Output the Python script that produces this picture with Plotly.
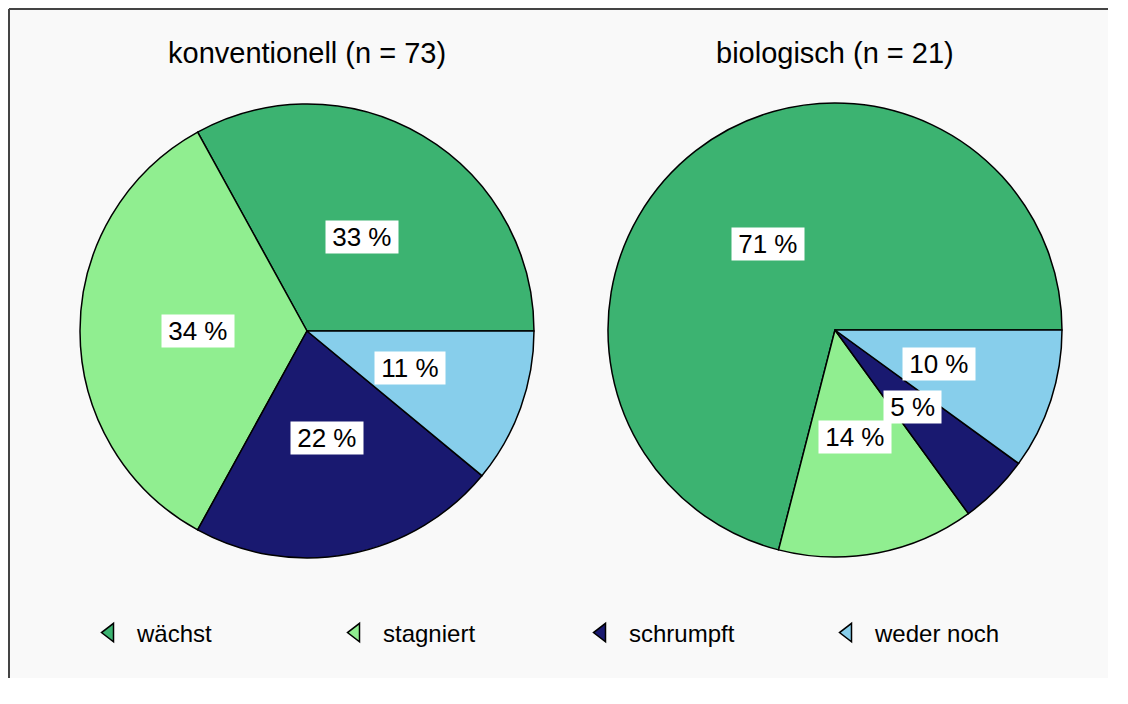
import math
import plotly.graph_objects as go

# Daten
kategorien = ["wächst", "stagniert", "schrumpft", "weder noch"]
konventionell = [33, 34, 22, 11]
biologisch = [71, 14, 5, 10]
titel = ["konventionell (n = 73)", "biologisch (n = 21)"]

farben = ["#3cb371", "#90ee90", "#191970", "#87ceeb"]
FONT = "Liberation Sans, Arial, Helvetica, sans-serif"

# Seite hat 8px Rand im Browser -> Figur kleiner, damit kein Scrollbalken kommt
RAND = 8
W, H = 1100, 670


def px_x(x):
    return (x - RAND) / W


def px_y(y):
    return 1 - (y - RAND) / H


# Lage der Kreise in Seitenpixeln (Mitte x, Mitte y, Radius)
kreise = [(307, 331, 227), (835, 330, 227)]

fig = go.Figure()
annotations = []

for werte, name, (cx, cy, r) in zip([konventionell, biologisch], titel, kreise):
    summe = sum(werte)
    # erstes Segment beginnt bei 3 Uhr und läuft gegen den Uhrzeigersinn
    rot = 90 - 360 * werte[0] / summe
    fig.add_trace(go.Pie(
        labels=kategorien,
        values=werte,
        sort=False,
        direction="counterclockwise",
        rotation=rot,
        textinfo="none",
        hoverinfo="label+percent",
        marker=dict(colors=farben, line=dict(color="black", width=1.5)),
        domain=dict(x=[px_x(cx - r), px_x(cx + r)], y=[px_y(cy + r), px_y(cy - r)]),
        showlegend=False,
    ))

    # Prozent-Beschriftungen in weißen Kästchen, Position aus Segmentmitte
    kum = 0
    for v in werte:
        mitte = math.radians((kum + v / 2) / summe * 360)
        kum += v
        x = cx + 0.48 * r * math.cos(mitte)
        y = cy - 0.48 * r * math.sin(mitte)
        annotations.append(dict(
            x=px_x(x), y=px_y(y), xref="paper", yref="paper",
            xanchor="center", yanchor="middle",
            text=f"\u2009{round(v / summe * 100)} %\u2009", showarrow=False,
            font=dict(size=26, color="black", family=FONT),
            bgcolor="white", borderpad=1,
        ))

    annotations.append(dict(
        x=px_x(cx), y=px_y(53), xref="paper", yref="paper",
        xanchor="center", yanchor="middle",
        text=name, showarrow=False,
        font=dict(size=29, color="black", family=FONT),
    ))

# Legende über leere Scatter-Spuren (keilförmige Symbole)
for kat, farbe in zip(kategorien, farben):
    fig.add_trace(go.Scatter(
        x=[None], y=[None], mode="markers", name=kat,
        marker=dict(symbol="triangle-left", size=30, color=farbe,
                    line=dict(color="black", width=1.5)),
    ))

# Rahmen nur links und oben (Bild ist rechts/unten beschnitten)
rahmen = dict(type="line", xref="paper", yref="paper",
              line=dict(color="#444444", width=2))

fig.update_layout(
    width=W, height=H,
    margin=dict(l=0, r=0, t=0, b=0),
    paper_bgcolor="#f9f9f9",
    plot_bgcolor="#f9f9f9",
    font=dict(family=FONT, color="black"),
    xaxis=dict(visible=False),
    yaxis=dict(visible=False),
    annotations=annotations,
    legend=dict(
        orientation="h", x=px_x(82), y=px_y(633),
        xanchor="left", yanchor="middle",
        entrywidth=186, entrywidthmode="pixels",
        itemwidth=45,
        font=dict(size=24, family=FONT),
        bgcolor="rgba(0,0,0,0)",
        itemsizing="trace",
    ),
    shapes=[
        dict(rahmen, x0=1 / W, x1=1 / W, y0=0, y1=1 - 1 / H),
        dict(rahmen, x0=1 / W, x1=1, y0=1 - 1 / H, y1=1 - 1 / H),
    ],
)

fig.write_html("out.html")
